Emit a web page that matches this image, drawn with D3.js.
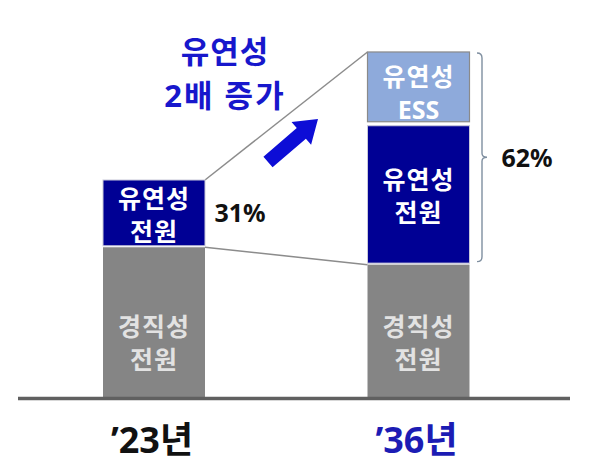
<!DOCTYPE html>
<html>
<head>
<meta charset="utf-8">
<script src="https://cdn.jsdelivr.net/npm/d3@7"></script>
<style>
html,body{margin:0;padding:0;background:#fff;}
svg{display:block;}
text{font-family:"Noto Sans","Noto Sans CJK KR",sans-serif;font-weight:700;}
</style>
</head>
<body>
<svg id="chart" width="600" height="464"></svg>
<script>
// ---- data ----
const years = ["’23년", "’36년"];
const rigid = [69, 61];      // 경직성 전원
const flexible = [31, 64];   // 유연성 전원
const ess = [0, 34];         // 유연성 ESS
const shares = ["31%", "62%"];
const yearColors = ["#111111", "#1c1cb4"];

const svg = d3.select("#chart");
const baseY = 397;
const y = d3.scaleLinear().domain([0, 100]).range([baseY, 180]);
const x = d3.scalePoint().domain(years).range([154, 418.5]);
const bw = 102;

const cGray = "#858585", cBlue = "#000094", cEss = "#8eaadb";

// connector lines
const x1r = x(years[0]) + bw / 2, x2l = x(years[1]) - bw / 2;
const tot = years.map((d, i) => rigid[i] + flexible[i] + ess[i]);
svg.append("line").attr("x1", x1r).attr("y1", y(tot[0])).attr("x2", x2l).attr("y2", y(tot[1]))
  .attr("stroke", "#8c8c8c").attr("stroke-width", 1.5);
svg.append("line").attr("x1", x1r).attr("y1", y(rigid[0])).attr("x2", x2l).attr("y2", y(rigid[1]))
  .attr("stroke", "#8c8c8c").attr("stroke-width", 1.5);

// segments
years.forEach((yr, i) => {
  const cx = x(yr), left = cx - bw / 2;
  const g = svg.append("g");
  g.append("rect").attr("x", left).attr("y", y(rigid[i])).attr("width", bw)
    .attr("height", y(0) - y(rigid[i])).attr("fill", cGray);
  g.append("rect").attr("x", left).attr("y", y(rigid[i] + flexible[i])).attr("width", bw)
    .attr("height", y(rigid[i]) - y(rigid[i] + flexible[i]) - 1.5).attr("fill", cBlue)
    .attr("stroke", "#c8c8d8").attr("stroke-width", 1);
  if (ess[i] > 0) {
    g.append("rect").attr("x", left).attr("y", y(tot[i])).attr("width", bw)
      .attr("height", y(rigid[i] + flexible[i]) - y(tot[i]) - 4).attr("fill", cEss)
      .attr("stroke", "#8a8a8a").attr("stroke-width", 1.2);
  }
  const lab = (cy, l1, l2, col, ls2) => {
    g.append("text").attr("x", cx).attr("y", cy - 16).attr("text-anchor", "middle")
      .attr("dominant-baseline", "central").attr("font-size", 25).attr("letter-spacing", 1)
      .attr("fill", col).text(l1);
    g.append("text").attr("x", cx).attr("y", cy + 17).attr("text-anchor", "middle")
      .attr("dominant-baseline", "central").attr("font-size", 25).attr("letter-spacing", ls2)
      .attr("fill", col).text(l2);
  };
  lab(baseY - 55, "경직성", "전원", "#e2e2e2", 1);
  lab((y(rigid[i]) + y(rigid[i] + flexible[i])) / 2, "유연성", "전원", "#ffffff", 1);
  if (ess[i] > 0) lab((y(rigid[i] + flexible[i]) + y(tot[i])) / 2 + 3, "유연성", "ESS", "#ffffff", 0);
  svg.append("text").attr("x", cx - 2).attr("y", 453).attr("text-anchor", "middle")
    .attr("font-size", 36).attr("fill", yearColors[i]).text(yr);
});

// share labels
svg.append("text").attr("x", 240).attr("y", 222).attr("text-anchor", "middle")
  .attr("font-size", 25).attr("fill", "#111").text(shares[0]);
svg.append("text").attr("x", 527).attr("y", 167).attr("text-anchor", "middle")
  .attr("font-size", 25).attr("fill", "#111").text(shares[1]);

// brace
const bt = y(tot[1]) + 1, bb = y(rigid[1]) - 3, bm = (bt + bb) / 2;
svg.append("path")
  .attr("d", `M477,${bt} Q482,${bt} 482,${bt + 5} L482,${bm - 4} Q482,${bm} 487,${bm} Q482,${bm} 482,${bm + 4} L482,${bb - 5} Q482,${bb} 477,${bb}`)
  .attr("fill", "none").attr("stroke", "#7f8fa0").attr("stroke-width", 1.4);

// axis baseline
svg.append("line").attr("x1", 18).attr("x2", 570).attr("y1", baseY + 1.5).attr("y2", baseY + 1.5)
  .attr("stroke", "#606060").attr("stroke-width", 3.5);

// title
svg.append("text").attr("x", 225).attr("y", 51).attr("text-anchor", "middle")
  .attr("dominant-baseline", "central").attr("font-size", 31).attr("letter-spacing", 1)
  .attr("fill", "#1717cc").text("유연성");
svg.append("text").attr("x", 225).attr("y", 95).attr("text-anchor", "middle")
  .attr("dominant-baseline", "central").attr("font-size", 31).attr("letter-spacing", 2)
  .attr("fill", "#1717cc").attr("xml:space", "preserve").text("2배 증가");

// arrow
const ax0 = 268, ay0 = 162, ax1 = 318, ay1 = 119;
const ang = Math.atan2(ay1 - ay0, ax1 - ax0);
const len = Math.hypot(ax1 - ax0, ay1 - ay0);
const sw = 7, hw = 15, hl = 22;
const pts = [[0, -sw], [len - hl, -sw], [len - hl, -hw], [len, 0], [len - hl, hw], [len - hl, sw], [0, sw]]
  .map(([u, v]) => [ax0 + u * Math.cos(ang) - v * Math.sin(ang), ay0 + u * Math.sin(ang) + v * Math.cos(ang)]);
svg.append("path").attr("d", d3.line()(pts) + "Z").attr("fill", "#0d0dd6");
</script>
</body>
</html>
